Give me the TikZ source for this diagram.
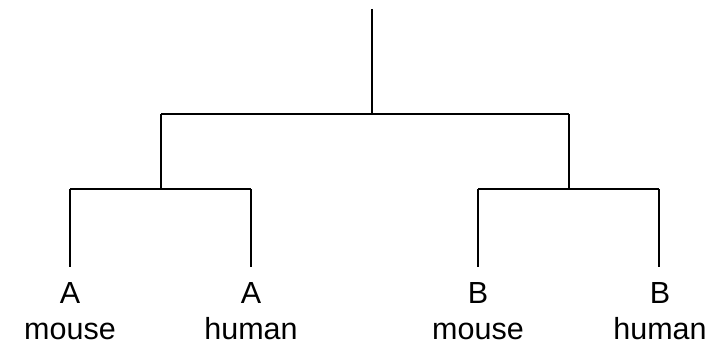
\documentclass[tikz,border=0pt]{standalone}
\usepackage{fontspec}
\setmainfont{Liberation Sans}
\begin{document}
\begin{tikzpicture}[x=1pt,y=-1pt,line width=1.3pt,
  leaf/.style={anchor=north,align=center,inner sep=0pt,font=\fontsize{30.5}{36}\selectfont}]
\useasboundingbox (0,0) rectangle (723,345);
% root and the two clades
\coordinate (top) at (372,9);
\coordinate (root) at (372,114);
\coordinate (cladeA) at (161,114);
\coordinate (cladeB) at (569,114);
\coordinate (splitA) at (161,189);
\coordinate (splitB) at (569,189);
% leaf tips
\coordinate (tipAm) at (70,189);
\coordinate (tipAh) at (251,189);
\coordinate (tipBm) at (478,189);
\coordinate (tipBh) at (659,189);
\coordinate (endAm) at (70,267);
\coordinate (endAh) at (251,267);
\coordinate (endBm) at (478,267);
\coordinate (endBh) at (659,267);
% labels
\node[leaf] (Am) at (70,282) {A\\mouse};
\node[leaf] (Ah) at (251,282) {A\\human};
\node[leaf] (Bm) at (478,282) {B\\mouse};
\node[leaf] (Bh) at (660,282) {B\\human};
% branches
\draw (top) -- (root);
\draw (cladeA) -- (cladeB);
\draw (cladeA) -- (splitA);
\draw (cladeB) -- (splitB);
\draw (tipAm) -- (tipAh);
\draw (tipBm) -- (tipBh);
\draw (tipAm) -- (endAm);
\draw (tipAh) -- (endAh);
\draw (tipBm) -- (endBm);
\draw (tipBh) -- (endBh);
\end{tikzpicture}
\end{document}
